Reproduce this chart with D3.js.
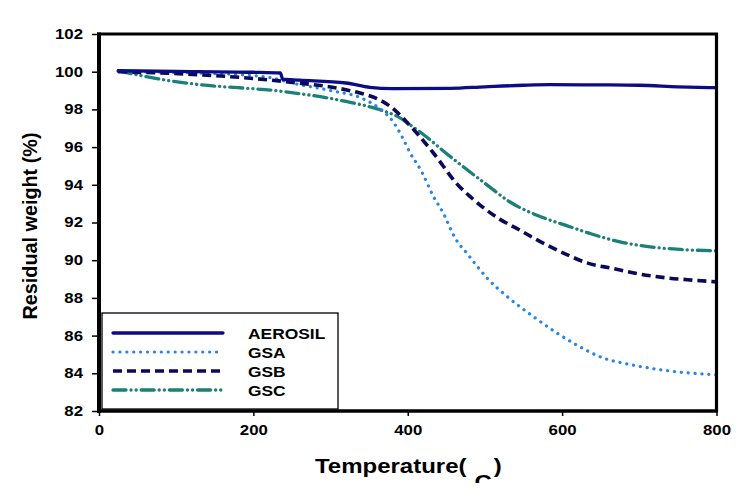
<!DOCTYPE html>
<html><head><meta charset="utf-8">
<script src="https://cdn.jsdelivr.net/npm/d3@7"></script>
<style>body{margin:0;background:#fff;}svg{display:block;}</style>
</head><body>
<script>
const xTicks = [0, 200, 400, 600, 800];
const yTicks = [82, 84, 86, 88, 90, 92, 94, 96, 98, 100, 102];
const seriesNames = ["AEROSIL", "GSA", "GSB", "GSC"];

const aerosilT = [25, 100, 200, 235, 238, 260, 320, 351, 380, 455, 500, 550, 584, 650, 700, 750, 800];
const aerosilW = [100.05, 100.02, 99.97, 99.93, 99.6, 99.55, 99.4, 99.17, 99.1, 99.12, 99.2, 99.28, 99.31, 99.3, 99.28, 99.2, 99.15];

const gsaT = [25, 150, 220, 250, 300, 340, 365, 380, 392, 403, 418, 433, 446, 461, 478, 504, 528, 563, 591, 619, 654, 684, 719, 753, 792, 800];
const gsaW = [100.0, 99.9, 99.7, 99.4, 99.0, 98.6, 98.0, 97.4, 96.6, 95.7, 94.7, 93.4, 92.5, 91.2, 90.3, 89.0, 88.1, 87.0, 86.2, 85.5, 84.8, 84.5, 84.24, 84.06, 83.94, 83.92];

const gsbT = [25, 130, 238, 320, 338, 364, 385, 398, 433, 465, 481, 502, 519, 545, 571, 606, 632, 666, 701, 736, 770, 800];
const gsbW = [100.0, 99.84, 99.49, 99.04, 98.87, 98.5, 97.9, 97.36, 95.7, 93.99, 93.37, 92.66, 92.18, 91.6, 91.0, 90.3, 89.86, 89.56, 89.26, 89.06, 88.94, 88.85];

const gscT = [25, 75, 123, 238, 320, 364, 390, 403, 416, 455, 500, 532, 578, 604, 636, 675, 714, 753, 800];
const gscW = [100.05, 99.63, 99.35, 98.95, 98.42, 97.98, 97.55, 97.18, 96.8, 95.5, 94.08, 93.1, 92.22, 91.86, 91.42, 90.97, 90.71, 90.57, 90.5];

const W = 749, H = 501;
const svg = d3.select("body").append("svg").attr("width", W).attr("height", H)
  .style("font-family", "'Liberation Sans', Arial, sans-serif");

const x = d3.scaleLinear().domain([0, 800]).range([99, 716.5]);
const y = d3.scaleLinear().domain([82, 102]).range([411, 34]);

const styles = {
  AEROSIL: {color: "#0c0c86", dash: null, cap: "round", w: 3.3},
  GSA: {color: "#2a84e6", dash: "0.1,6.8", cap: "round", w: 3.2},
  GSB: {color: "#0a0a58", dash: "9,5", cap: "butt", w: 3.6},
  GSC: {color: "#1b8078", dash: "13,5,0.1,5,0.1,5", cap: "round", w: 3.3}
};
const data = {
  AEROSIL: aerosilT.map((t, i) => [t, aerosilW[i]]),
  GSA: gsaT.map((t, i) => [t, gsaW[i]]),
  GSB: gsbT.map((t, i) => [t, gsbW[i]]),
  GSC: gscT.map((t, i) => [t, gscW[i]])
};

const line = d3.line().x(d => x(d[0])).y(d => y(d[1])).curve(d3.curveMonotoneX);

["GSC", "GSA", "GSB", "AEROSIL"].forEach(name => {
  const s = styles[name];
  svg.append("path").datum(data[name]).attr("d", line)
    .attr("fill", "none").attr("stroke", s.color).attr("stroke-width", s.w)
    .attr("stroke-linecap", s.cap).attr("stroke-dasharray", s.dash);
});

// axes
const yAxis = d3.axisLeft(y).tickValues(yTicks).tickSize(7).tickPadding(5);
const gy = svg.append("g").attr("transform", "translate(99,0)").call(yAxis);
gy.select(".domain").remove();
gy.selectAll(".tick line").attr("stroke", "#000").attr("stroke-width", 1.5);
gy.selectAll(".tick text").attr("font-size", 14).attr("font-weight", "bold").attr("fill", "#000")
  .attr("x", -13.3).attr("transform", "scale(1.2,1)");

const xAxis = d3.axisBottom(x).tickValues(xTicks).tickSize(5).tickPadding(9);
const gx = svg.append("g").attr("transform", "translate(0,411)").call(xAxis);
gx.select(".domain").remove();
gx.selectAll(".tick line").attr("stroke", "#000").attr("stroke-width", 1.5);
gx.selectAll(".tick text").attr("font-size", 14).attr("font-weight", "bold").attr("fill", "#000")
  .attr("transform", "scale(1.2,1)");

// frame
svg.append("line").attr("x1", 97).attr("x2", 718).attr("y1", 34).attr("y2", 34).attr("stroke", "#000").attr("stroke-width", 3.2);
svg.append("line").attr("x1", 716.5).attr("x2", 716.5).attr("y1", 33).attr("y2", 412).attr("stroke", "#000").attr("stroke-width", 3.2);
svg.append("line").attr("x1", 99).attr("x2", 99).attr("y1", 32.5).attr("y2", 413).attr("stroke", "#000").attr("stroke-width", 4);
svg.append("line").attr("x1", 97).attr("x2", 718).attr("y1", 411).attr("y2", 411).attr("stroke", "#000").attr("stroke-width", 3.6);

// legend
const lg = svg.append("g");
lg.append("rect").attr("x", 102).attr("y", 313).attr("width", 236).attr("height", 96)
  .attr("fill", "#fff").attr("stroke", "#000").attr("stroke-width", 1.3);
const rowY = [333, 352, 371, 390];
seriesNames.forEach((name, i) => {
  const s = styles[name];
  lg.append("line").attr("x1", 113).attr("x2", 223).attr("y1", rowY[i]).attr("y2", rowY[i])
    .attr("stroke", s.color).attr("stroke-width", s.w).attr("stroke-linecap", s.cap)
    .attr("stroke-dasharray", s.dash);
  lg.append("text").attr("transform", `translate(248,${rowY[i] + 5.5}) scale(1.2,1)`)
    .attr("font-size", 14.5).attr("font-weight", "bold").attr("fill", "#000").text(name);
});

// y label
svg.append("text").attr("transform", "translate(37,226) rotate(-90)")
  .attr("text-anchor", "middle").attr("font-size", 20.5).attr("font-weight", "bold")
  .attr("textLength", 187).attr("lengthAdjust", "spacingAndGlyphs")
  .attr("fill", "#000").text("Residual weight (%)");

// x label (degree sign missing in reference, C lowered and clipped)
svg.append("clipPath").attr("id", "xlclip").append("rect").attr("x", 0).attr("y", 0).attr("width", W).attr("height", 483);
const xlg = svg.append("g").attr("clip-path", "url(#xlclip)");
const xl = xlg.append("text").attr("transform", "translate(315,473) scale(1.2,1)").attr("font-size", 20)
  .attr("font-weight", "bold").attr("fill", "#000");
xl.append("tspan").text("Temperature(");
xl.append("tspan").attr("dx", 6.7).attr("dy", 15.5).text("C");
xl.append("tspan").attr("dx", 1.5).attr("dy", -15.5).text(")");
</script>
</body></html>
